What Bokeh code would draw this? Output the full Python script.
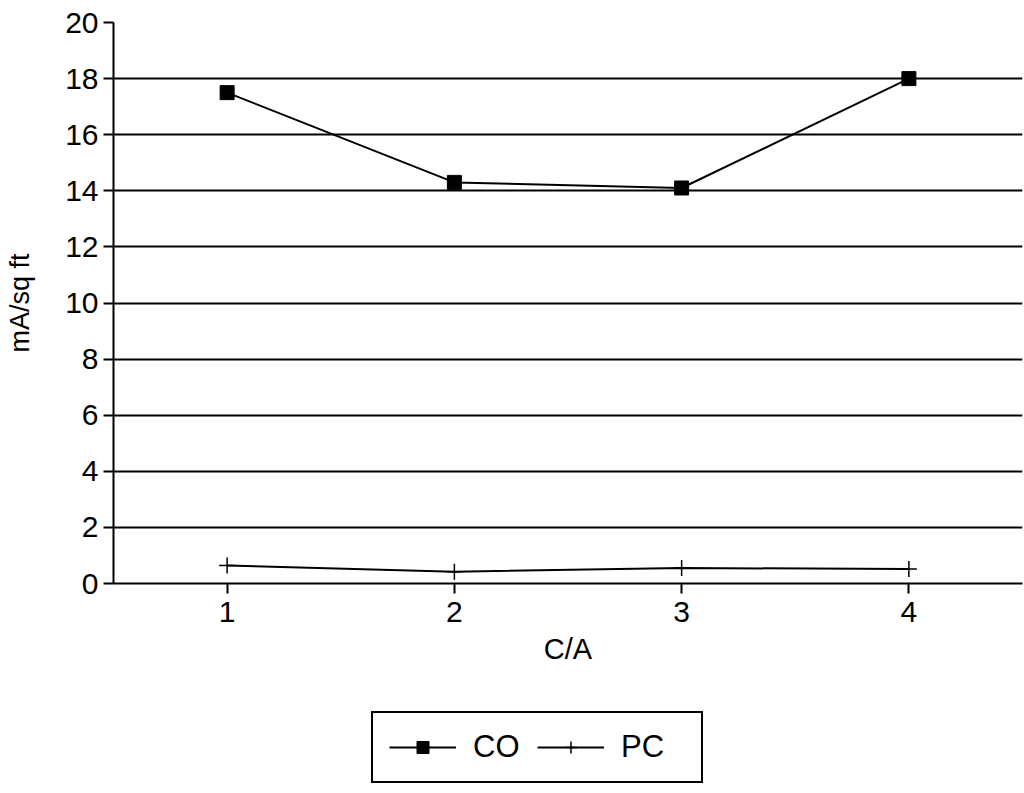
from bokeh.plotting import figure
from bokeh.models import Legend, LegendItem, FixedTicker, Range1d
from bokeh.layouts import column
from bokeh.embed import file_html
from bokeh.resources import INLINE

ca = [1, 2, 3, 4]
co = [17.5, 14.3, 14.1, 18.0]
pc = [0.64, 0.42, 0.55, 0.52]
y_ticks = [0, 2, 4, 6, 8, 10, 12, 14, 16, 18, 20]
series_names = ["CO", "PC"]

FONT = "Liberation Sans"
TOP_H = 690

p = figure(width=1024, height=TOP_H, output_backend="svg", toolbar_location=None,
           x_range=Range1d(0.5, 4.5), y_range=Range1d(0, 20),
           min_border_left=113, min_border_right=2, min_border_top=22,
           min_border_bottom=TOP_H - 583)
p.outline_line_color = None
p.background_fill_color = "white"
p.border_fill_color = "white"

p.xgrid.grid_line_color = None
p.ygrid.grid_line_color = "black"
p.ygrid.grid_line_width = 2
p.ygrid.ticker = FixedTicker(ticks=y_ticks)

p.xaxis.ticker = FixedTicker(ticks=ca)
p.yaxis.ticker = FixedTicker(ticks=y_ticks)
for ax in (p.xaxis[0], p.yaxis[0]):
    ax.axis_line_color = "black"
    ax.axis_line_width = 2
    ax.major_tick_line_color = "black"
    ax.major_tick_line_width = 2
    ax.major_tick_out = 10
    ax.major_tick_in = 0
    ax.minor_tick_line_color = None
    ax.major_label_text_font = FONT
    ax.major_label_text_font_size = "30px"
    ax.major_label_text_color = "black"
    ax.axis_label_text_font = FONT
    ax.axis_label_text_font_style = "normal"
    ax.axis_label_text_color = "black"

p.xaxis.axis_label = "C/A"
p.xaxis.axis_label_text_font_size = "29px"
p.xaxis.axis_label_standoff = 8
p.yaxis.axis_label = "mA/sq ft"
p.yaxis.axis_label_text_font_size = "27px"
p.yaxis.axis_label_standoff = 27
p.xaxis.major_label_standoff = 8
p.yaxis.major_label_standoff = 5

p.line(ca, co, line_color="black", line_width=2)
p.scatter(ca, co, marker="square", size=14, fill_color="black", line_color="black")
p.line(ca, pc, line_color="black", line_width=2)
p.scatter(ca, pc, marker="cross", size=16, line_color="black", line_width=1.5)

# legend panel (its own small figure below the chart; series drawn out of view)
q = figure(width=1024, height=793 - TOP_H, output_backend="svg", toolbar_location=None,
           min_border=0, x_range=Range1d(-10, -9), y_range=Range1d(-10, -9))
q.xaxis.visible = False
q.yaxis.visible = False
q.grid.visible = False
q.outline_line_color = None
q.background_fill_color = "white"
q.border_fill_color = "white"
ql1 = q.line(ca, co, line_color="black", line_width=2)
qs1 = q.scatter(ca, co, marker="square", size=15, fill_color="black", line_color="black")
ql2 = q.line(ca, pc, line_color="black", line_width=2)
qs2 = q.scatter(ca, pc, marker="cross", size=14, line_color="black", line_width=1.5)

legend = Legend(items=[LegendItem(label=series_names[0], renderers=[ql1, qs1]),
                       LegendItem(label=series_names[1], renderers=[ql2, qs2])],
                orientation="horizontal", location=(258, 10),
                border_line_color="black", border_line_width=2, border_line_alpha=1,
                label_text_font=FONT, label_text_font_size="31px", label_text_color="black",
                glyph_width=67, glyph_height=30, spacing=0, label_width=64,
                padding=16, margin=0, label_standoff=17,
                background_fill_color="white", background_fill_alpha=1)
q.add_layout(legend, "center")

layout = column(p, q, spacing=0)
open("out.html", "w").write(file_html(layout, INLINE))
